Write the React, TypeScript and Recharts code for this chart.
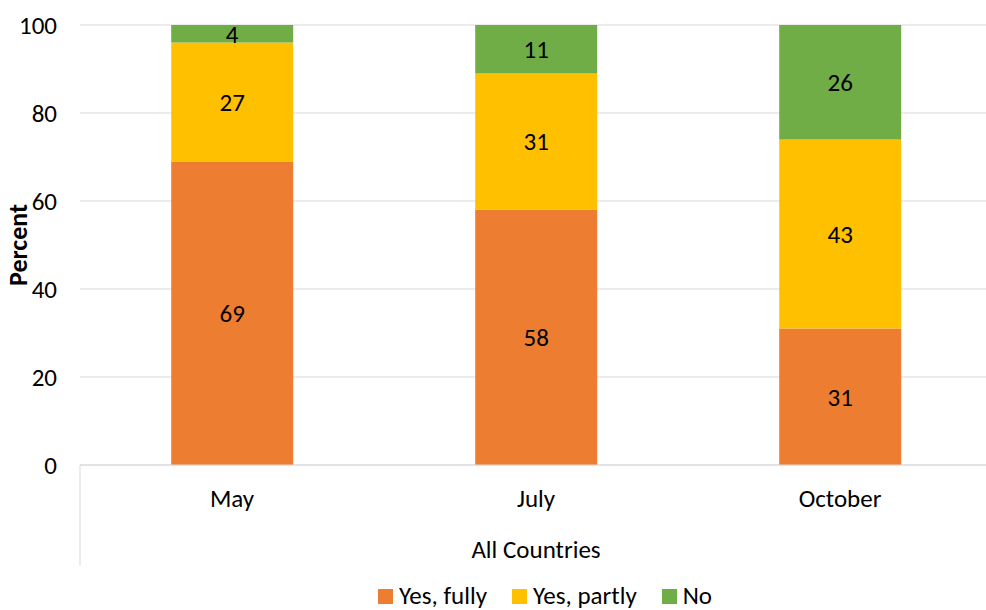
import {
  BarChart,
  Bar,
  XAxis,
  YAxis,
  CartesianGrid,
  Legend,
  LabelList,
  Label,
} from "recharts";

const categories = ["May", "July", "October"];
const yesFully = [69, 58, 31];
const yesPartly = [27, 31, 43];
const no = [4, 11, 26];
const yTicks = [0, 20, 40, 60, 80, 100];

const seriesNames = ["Yes, fully", "Yes, partly", "No"];
const colors = ["#ED7D31", "#FFC000", "#70AD47"];

const data = categories.map((month, i) => ({
  month,
  fully: yesFully[i],
  partly: yesPartly[i],
  no: no[i],
}));

const FONT = "Carlito, Lato, sans-serif";
const FS = 25;

// group label under the month labels, plus the left divider line
const GroupLabel = (props: any) => {
  const { x, y, width, height } = props.viewBox;
  return (
    <g>
      <line x1={x} y1={y} x2={x} y2={y + height + 1} stroke="#D9D9D9" strokeWidth={1} />
      <text
        x={x + width / 2}
        y={y + 93}
        textAnchor="middle"
        fontSize={FS}
        fontFamily={FONT}
        fill="#000"
      >
        All Countries
      </text>
    </g>
  );
};

const LegendBox = () => (
  <div
    style={{
      height: 45,
      display: "flex",
      justifyContent: "center",
      alignItems: "flex-end",
      fontFamily: FONT,
      fontSize: FS,
      color: "#000",
      paddingLeft: 98,
      boxSizing: "border-box",
    }}
  >
    {seriesNames.map((name, i) => (
      <div
        key={name}
        style={{ display: "flex", alignItems: "center", marginRight: i < 2 ? 25 : 0, lineHeight: "28px" }}
      >
        <span style={{ width: 15, height: 15, background: colors[i], marginRight: 6, display: "inline-block" }} />
        <span>{name}</span>
      </div>
    ))}
  </div>
);

const App = () => {
  return (
    <div
      style={{
        position: "fixed",
        left: 0,
        top: 0,
        width: 986,
        height: 610,
        overflow: "hidden",
        background: "#fff",
      }}
    >
      <BarChart
        width={1000}
        height={610}
        data={data}
        margin={{ top: 25, right: 8, left: 0, bottom: 0 }}
        barCategoryGap="30%"
      >
        <CartesianGrid vertical={false} stroke="#D9D9D9" />
        <XAxis
          dataKey="month"
          height={100}
          tickLine={false}
          axisLine={{ stroke: "#D9D9D9" }}
          tick={{ fontSize: FS, fontFamily: FONT, fill: "#000" }}
          tickMargin={18}
        >
          <Label content={<GroupLabel />} />
        </XAxis>
        <YAxis
          width={80}
          domain={[0, 100]}
          ticks={yTicks}
          axisLine={false}
          tickLine={false}
          tickMargin={17}
          tick={{ fontSize: FS, fontFamily: FONT, fill: "#000" }}
        >
          <Label
            value="Percent"
            angle={-90}
            position="insideLeft"
            offset={18}
            style={{ textAnchor: "middle", fontWeight: "bold", fontSize: 26, fontFamily: FONT, fill: "#000" }}
          />
        </YAxis>
        <Legend verticalAlign="bottom" content={<LegendBox />} />
        <Bar dataKey="fully" name={seriesNames[0]} stackId="a" fill={colors[0]} isAnimationActive={false}>
          <LabelList dataKey="fully" position="center" fill="#000" fontSize={FS} fontFamily={FONT} />
        </Bar>
        <Bar dataKey="partly" name={seriesNames[1]} stackId="a" fill={colors[1]} isAnimationActive={false}>
          <LabelList dataKey="partly" position="center" fill="#000" fontSize={FS} fontFamily={FONT} />
        </Bar>
        <Bar dataKey="no" name={seriesNames[2]} stackId="a" fill={colors[2]} isAnimationActive={false}>
          <LabelList dataKey="no" position="center" fill="#000" fontSize={FS} fontFamily={FONT} />
        </Bar>
      </BarChart>
    </div>
  );
};

export default App;
